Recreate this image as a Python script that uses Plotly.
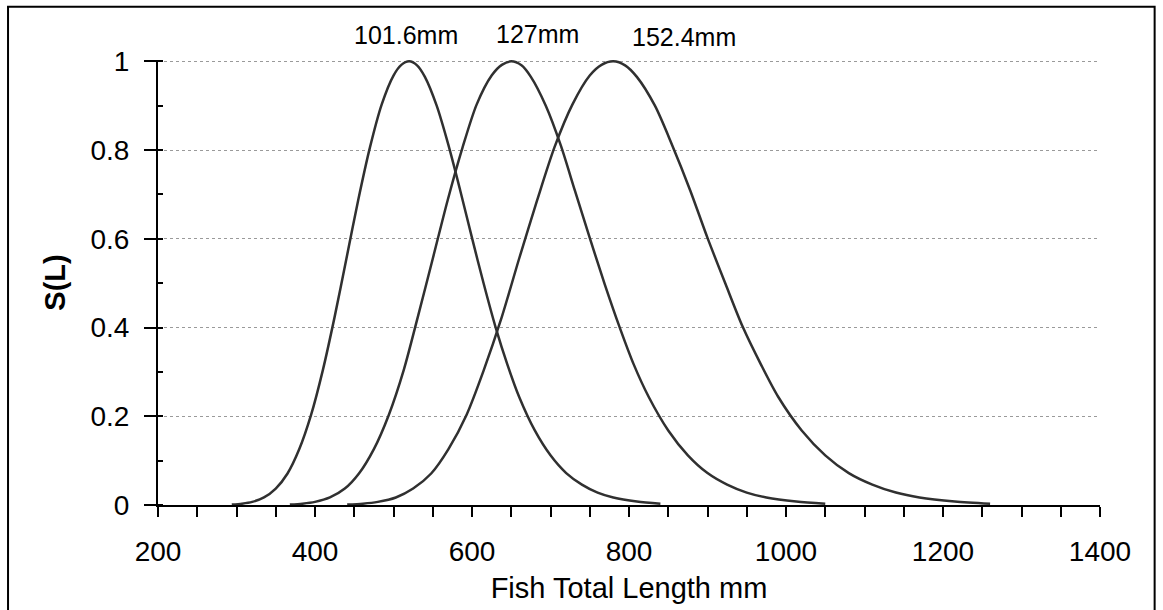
import plotly.graph_objects as go

# Curve for 101.6 mm mesh
len_101 = [294, 307, 320, 335, 350, 365, 380, 395, 410, 425, 440, 455, 470, 485, 500, 510, 520,
           530, 540, 555, 570, 585, 600, 615, 630, 645, 660, 680, 700, 720, 740, 760, 780, 810, 840]
sel_101 = [0.001, 0.003, 0.007, 0.017, 0.037, 0.071, 0.126, 0.203, 0.304, 0.424, 0.555, 0.687, 0.806,
           0.903, 0.968, 0.992, 1.0, 0.991, 0.965, 0.900, 0.811, 0.709, 0.602, 0.498, 0.401, 0.317,
           0.244, 0.168, 0.112, 0.072, 0.046, 0.028, 0.017, 0.008, 0.003]

# Curve for 127 mm mesh
len_127 = [368, 384, 400, 419, 438, 456, 475, 494, 513, 531, 550, 569, 588, 606, 625, 638, 650,
           663, 675, 694, 713, 731, 750, 769, 788, 806, 825, 850, 875, 900, 925, 950, 975, 1013, 1050]
sel_127 = [0.001, 0.003, 0.007, 0.017, 0.037, 0.071, 0.126, 0.203, 0.304, 0.424, 0.555, 0.687, 0.806,
           0.903, 0.968, 0.992, 1.0, 0.991, 0.965, 0.900, 0.811, 0.709, 0.602, 0.498, 0.401, 0.317,
           0.244, 0.168, 0.112, 0.072, 0.046, 0.028, 0.017, 0.008, 0.003]

# Curve for 152.4 mm mesh
len_152 = [441, 461, 480, 503, 525, 548, 570, 593, 615, 638, 660, 683, 705, 728, 750, 765, 780,
           795, 810, 833, 855, 878, 900, 923, 945, 968, 990, 1020, 1050, 1080, 1110, 1140, 1170, 1215, 1260]
sel_152 = [0.001, 0.003, 0.007, 0.017, 0.037, 0.071, 0.126, 0.203, 0.304, 0.424, 0.555, 0.687, 0.806,
           0.903, 0.968, 0.992, 1.0, 0.991, 0.965, 0.900, 0.811, 0.709, 0.602, 0.498, 0.401, 0.317,
           0.244, 0.168, 0.112, 0.072, 0.046, 0.028, 0.017, 0.008, 0.003]

curve_labels = ["101.6mm", "127mm", "152.4mm"]
label_x = [516, 684, 870]
label_y = [1.056, 1.058, 1.052]

x_ticks = [200, 400, 600, 800, 1000, 1200, 1400]
y_ticks = [0, 0.2, 0.4, 0.6, 0.8, 1]

FONT = "Liberation Sans, Arial, sans-serif"
LINE = "#303030"

fig = go.Figure()
for xs, ys, name in [(len_101, sel_101, curve_labels[0]),
                     (len_127, sel_127, curve_labels[1]),
                     (len_152, sel_152, curve_labels[2])]:
    fig.add_trace(go.Scatter(x=xs, y=ys, mode="lines", name=name,
                             line=dict(color=LINE, width=2.5, shape="spline", smoothing=0.8),
                             showlegend=False, hoverinfo="skip"))

for txt, lx, ly in zip(curve_labels, label_x, label_y):
    fig.add_annotation(x=lx, y=ly, xref="x", yref="paper", text=txt, showarrow=False,
                       font=dict(family=FONT, size=25, color="black"),
                       xanchor="center", yanchor="middle")

fig.update_layout(
    width=1163, height=610,
    margin=dict(l=158, r=63, t=60, b=105),
    paper_bgcolor="white", plot_bgcolor="white",
    font=dict(family=FONT, color="black"),
    shapes=[dict(type="rect", xref="paper", yref="paper", x0=-0.1592, x1=1.058,
                 y0=-0.3, y1=1.1195, line=dict(color="black", width=2), fillcolor="rgba(0,0,0,0)",
                 layer="below")],
)

fig.update_xaxes(
    range=[200, 1400], tickvals=x_ticks, ticktext=[str(v) for v in x_ticks],
    ticks="outside", ticklen=10, tickwidth=1.5, tickcolor="black", ticklabelstandoff=10,
    minor=dict(dtick=50, tick0=200, ticks="outside", ticklen=10, tickwidth=1.5, tickcolor="black", showgrid=False),
    showline=True, linecolor="black", linewidth=2, showgrid=False, zeroline=False,
    tickfont=dict(family=FONT, size=28, color="black"),
    title=dict(text="Fish Total Length mm", font=dict(family=FONT, size=29, color="black"), standoff=12),
)
fig.update_yaxes(
    range=[0, 1.003], tickvals=y_ticks, ticktext=["0", "0.2", "0.4", "0.6", "0.8", "1"],
    ticks="outside", ticklen=12, tickwidth=1.5, tickcolor="black", ticklabelstandoff=9,
    minor=dict(dtick=0.1, tick0=0, ticks="inside", ticklen=5, tickwidth=1.5, tickcolor="black", showgrid=False),
    showline=True, linecolor="black", linewidth=2,
    showgrid=True, gridcolor="#9a9a9a", gridwidth=1, griddash="dot", zeroline=False,
    tickfont=dict(family=FONT, size=28, color="black"),
    title=dict(text="<b>S(L)</b>", font=dict(family=FONT, size=29, color="black"), standoff=16),
)

fig.write_html("out.html")
